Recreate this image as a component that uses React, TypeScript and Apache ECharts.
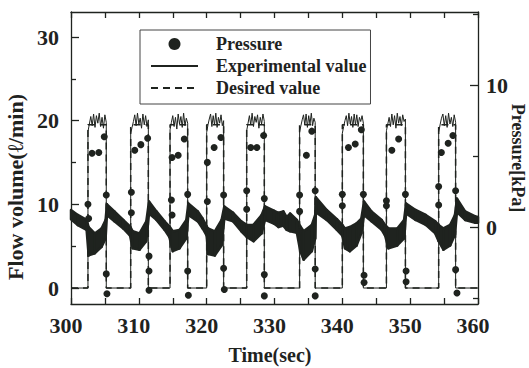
import React, { useEffect, useRef } from "react";
import * as echarts from "echarts";

// ---- Flow volume (left axis, l/min) ----
const riseTimes = [302.5, 308.8, 314.6, 320.0, 325.9, 333.7, 340.0, 346.5, 354.2];
const fallTimes = [305.2, 311.4, 317.2, 322.5, 328.5, 336.0, 343.1, 349.3, 356.7];
const desiredHigh = 19.5;
const desiredLow = 0;
const experimentalTops: number[][] = [
  [18.7, 19.6, 20.5, 19.4, 20.8, 19.2, 20.6, 19.7, 20.9, 19.3, 20.4, 19.1, 20.7, 19.8],
  [18.5, 19.2, 19.9, 20.7, 19.4, 20.9, 19.6, 20.3, 19.1, 20.8, 19.5, 20.6, 19.3, 20.1],
  [18.9, 19.8, 20.6, 19.3, 20.4, 19.0, 20.8, 19.6, 20.5, 19.2, 20.9, 19.4, 20.3, 19.7],
  [18.6, 19.5, 20.2, 20.8, 19.3, 20.6, 19.5, 20.9, 19.2, 20.4, 19.7, 20.7, 19.4, 20.0],
  [18.8, 19.7, 20.6, 19.5, 20.9, 19.3, 20.5, 19.8, 20.7, 19.1, 20.4, 19.6, 20.8, 19.9],
  [18.7, 19.4, 20.1, 20.7, 19.5, 20.8, 19.2, 20.6, 19.6, 20.9, 19.4, 20.3, 19.8],
  [18.5, 19.3, 20.0, 20.6, 19.4, 20.9, 19.6, 20.5, 19.2, 20.8, 19.5, 20.7, 19.3, 20.4, 19.9, 20.6, 19.7],
  [18.8, 19.6, 20.4, 19.3, 20.8, 19.5, 20.6, 19.1, 20.9, 19.7, 20.5, 19.4, 20.7, 19.9, 20.2],
  [18.6, 19.5, 20.3, 20.8, 19.4, 20.6, 19.2, 20.9, 19.6, 20.4, 19.3, 20.7, 19.8],
];

// ---- Pressure (right axis, kPa): dense band, upper / lower envelope ----
const bandTimes = [
  300.0, 301.0, 302.3, 302.6, 303.5, 304.5, 305.1, 305.3, 306.4, 307.7, 308.7, 309.1, 310.1, 311.1, 311.5,
  312.6, 313.8, 314.5, 315.0, 316.0, 317.0, 317.3, 318.7, 319.4, 320.0, 320.2, 321.2, 322.2, 322.6, 323.9,
  325.1, 325.9, 326.9, 328.1, 328.6, 329.9, 330.6, 331.3, 331.8, 332.3, 333.3, 333.8, 334.3, 335.5, 336.0,
  336.1, 337.7, 339.2, 340.0, 340.4, 341.1, 342.1, 342.8, 343.2, 344.3, 345.8, 346.3, 346.8, 348.1, 349.1,
  349.4, 350.8, 352.3, 353.7, 354.2, 354.9, 355.9, 356.6, 356.9, 358.1, 359.6, 360.0,
];
const bandUpper = [
  1.2, 0.85, 0.5, 0.0, -0.45, -0.1, 0.5, 1.6, 1.1, 0.5, 0.05, -0.3, -0.45, 0.4, 1.8,
  1.1, 0.4, 0.05, -0.3, -0.2, 0.5, 1.65, 1.1, 0.6, 0.05, -0.1, -0.3, 0.5, 1.45, 1.0,
  0.4, 0.15, 0.15, 0.85, 1.45, 1.15, 1.0, 1.1, 0.7, 0.95, 0.5, 0.05, -0.3, 0.15, 0.85,
  2.1, 1.2, 0.55, 0.15, -0.1, 0.0, 0.25, 0.6, 1.8, 1.1, 0.5, 0.15, -0.1, -0.1, 0.5,
  1.65, 1.2, 0.85, 0.4, 0.15, -0.1, 0.15, 0.85, 2.0, 1.1, 0.75, 0.7,
];
const bandLower = [
  0.55, 0.14, -0.2, -2.0, -1.85, -1.4, -0.8, 0.85, 0.4, -0.1, -0.6, -1.5, -1.6, -1.0, 0.95,
  0.5, -0.2, -0.7, -1.7, -1.5, -0.8, 0.85, 0.4, -0.1, -0.6, -1.9, -2.0, -1.3, 0.6, 0.4,
  -0.3, -0.7, -1.0, -0.45, 0.5, 0.25, 0.0, 0.1, -0.2, -0.3, -0.4, -1.7, -2.3, -1.7, -0.8,
  1.05, 0.5, -0.2, -0.6, -1.5, -1.7, -1.3, -0.45, 0.85, 0.4, -0.2, -0.6, -1.5, -1.3, -0.8,
  0.95, 0.5, 0.15, -0.45, -1.0, -1.6, -1.3, -0.55, 1.05, 0.5, 0.3, 0.3,
];

// ---- Pressure: isolated samples at the valve switching instants ----
const dotTimes = [
  302.5, 302.6, 303.1, 304.1, 304.9, 305.2, 305.2, 305.3,
  308.9, 308.9, 309.4, 310.3, 311.3, 311.5, 311.5, 311.5,
  314.8, 314.9, 314.9, 315.8, 316.7, 317.2, 317.2, 317.3,
  320.1, 320.1, 321.1, 322.1, 322.5, 322.5, 322.6,
  325.9, 325.9, 326.5, 327.4, 328.4, 328.5, 328.5, 328.5,
  333.7, 333.7, 334.7, 335.5, 336.0, 336.0, 336.0,
  340.0, 340.0, 340.9, 341.9, 342.8, 343.1, 343.2, 343.2,
  346.5, 346.5, 347.3, 348.3, 349.3, 349.4, 349.4,
  354.2, 354.2, 354.6, 355.6, 356.3, 356.7, 356.7, 356.9,
];
const dotValues = [
  1.6, 0.6, 5.2, 5.25, 6.35, 2.25, -3.3, -4.7,
  2.45, 1.0, 5.4, 5.8, 6.25, -2.05, -3.1, -4.45,
  1.9, 0.85, 4.9, 5.05, 6.2, 2.3, -3.1, -4.8,
  4.55, 1.8, 5.6, 6.3, 2.25, -2.9, -4.4,
  2.55, 1.25, 5.6, 5.6, 6.45, 2.0, -3.35, -4.85,
  2.25, 1.1, 5.05, 6.75, 2.55, -2.95, -4.85,
  2.3, 1.5, 5.6, 5.85, 6.85, 2.3, -3.4, -3.9,
  1.85, 1.5, 5.4, 6.2, 2.3, -3.1, -3.85,
  2.85, 1.55, 5.25, 5.9, 6.45, 2.55, -3.0, -4.65,
];

// ---- Axes ----
const timeMin = 300;
const timeMax = 360;
const timeTickStep = 5;
const timeLabelValues = [300, 310, 320, 330, 340, 350, 360];
const flowMin = -1.91;
const flowMax = 32.99;
const flowLabelValues = [0, 10, 20, 30];
const flowMinorTicks = [5, 15, 25];
const pressureMin = -5.42;
const pressureMax = 15.14;
const pressureLabelValues = [0, 10];
const pressureMinorTicks = [-5, 5, 15];

const INK = "#1f231f";
const FONT = "'Liberation Serif', 'Times New Roman', serif";

export default function App() {
  const ref = useRef<HTMLDivElement>(null);

  useEffect(() => {
    if (!ref.current) return;
    const chart = echarts.init(ref.current, undefined, { renderer: "svg" });

    const desired: number[][] = [[timeMin, desiredLow]];
    riseTimes.forEach((r, i) => {
      const f = fallTimes[i];
      desired.push([r, desiredLow], [r, desiredHigh], [f, desiredHigh], [f, desiredLow]);
    });
    desired.push([timeMax, desiredLow]);

    const experimental: number[][] = [[timeMin, 0]];
    riseTimes.forEach((r, i) => {
      const f = fallTimes[i];
      const tops = experimentalTops[i];
      experimental.push([r, 0]);
      tops.forEach((v, k) => experimental.push([r + ((f - r) * k) / (tops.length - 1), v]));
      experimental.push([f, 0]);
    });
    experimental.push([timeMax, 0]);

    // band segments: [t0, upper0, lower0, t1, upper1, lower1]
    const bandSegments = bandTimes.slice(0, -1).map((t, i) => [
      t, bandUpper[i], bandLower[i], bandTimes[i + 1], bandUpper[i + 1], bandLower[i + 1],
    ]);
    const dots = dotTimes.map((t, i) => [t, dotValues[i]]);

    const axisLineStyle = { color: INK, width: 1.3 };
    const labelStyle = { color: INK, fontFamily: FONT, fontWeight: "bold" as const, fontSize: 22 };

    chart.setOption({
      animation: false,
      backgroundColor: "#ffffff",
      grid: { left: 71, right: 51, top: 12, bottom: 64, containLabel: false, outerBoundsMode: "none" },
      legend: {
        orient: "vertical",
        left: 140,
        top: 30,
        padding: [5, 4, 7, 10],
        itemGap: 4,
        itemWidth: 47,
        itemHeight: 12,
        borderColor: "#444",
        borderWidth: 1,
        backgroundColor: "#fff",
        selectedMode: false,
        textStyle: { color: INK, fontFamily: FONT, fontWeight: "bold", fontSize: 18, padding: [0, 0, 0, 13] },
        data: [
          { name: "Pressure", icon: "circle", itemStyle: { color: INK, opacity: 1 } },
          { name: "Experimental value", itemStyle: { opacity: 0 } },
          { name: "Desired value", itemStyle: { opacity: 0 } },
        ],
      },
      xAxis: [
        {
          type: "value",
          position: "bottom",
          min: timeMin,
          max: timeMax,
          interval: timeTickStep,
          axisLine: { show: true, onZero: false, lineStyle: axisLineStyle },
          axisTick: { show: true, inside: true, length: 6, lineStyle: axisLineStyle },
          axisLabel: { ...labelStyle, customValues: timeLabelValues, margin: 10, padding: [0, 10, 0, 0] },
          splitLine: { show: false },
        },
        {
          type: "value",
          position: "top",
          min: timeMin,
          max: timeMax,
          interval: timeTickStep,
          axisLine: { show: true, onZero: false, lineStyle: axisLineStyle },
          axisTick: { show: true, inside: true, length: 6, lineStyle: axisLineStyle },
          axisLabel: { show: false },
          splitLine: { show: false },
        },
      ],
      yAxis: [
        {
          type: "value",
          position: "left",
          min: flowMin,
          max: flowMax,
          axisLine: { show: true, onZero: false, lineStyle: axisLineStyle },
          axisTick: { show: true, inside: true, length: 8, customValues: flowLabelValues, lineStyle: axisLineStyle },
          axisLabel: { ...labelStyle, customValues: flowLabelValues, margin: 12, padding: [7, 0, 0, 0] },
          splitLine: { show: false },
        },
        {
          type: "value",
          position: "right",
          min: pressureMin,
          max: pressureMax,
          axisLine: { show: true, onZero: false, lineStyle: axisLineStyle },
          axisTick: { show: true, inside: true, length: 8, customValues: pressureLabelValues, lineStyle: axisLineStyle },
          axisLabel: { ...labelStyle, customValues: pressureLabelValues, margin: 8, padding: [5, 0, 0, 0] },
          splitLine: { show: false },
        },
        {
          type: "value",
          position: "left",
          min: flowMin,
          max: flowMax,
          axisLine: { show: false, onZero: false },
          axisTick: { show: true, inside: true, length: 5, customValues: flowMinorTicks, lineStyle: axisLineStyle },
          axisLabel: { show: false },
          splitLine: { show: false },
        },
        {
          type: "value",
          position: "right",
          min: pressureMin,
          max: pressureMax,
          axisLine: { show: false, onZero: false },
          axisTick: { show: true, inside: true, length: 5, customValues: pressureMinorTicks, lineStyle: axisLineStyle },
          axisLabel: { show: false },
          splitLine: { show: false },
        },
      ],
      graphic: [
        {
          type: "text",
          x: 15,
          y: 187,
          rotation: Math.PI / 2,
          style: {
            text: "Flow volume(ℓ/min)",
            fill: INK,
            fontFamily: FONT,
            fontWeight: "bold",
            fontSize: 22,
            align: "center",
            verticalAlign: "middle",
            textAlign: "center",
            textVerticalAlign: "middle",
          },
        },
        {
          type: "text",
          x: 518,
          y: 158,
          rotation: -Math.PI / 2,
          style: {
            text: "Pressure[kPa]",
            fill: INK,
            fontFamily: FONT,
            fontWeight: "bold",
            fontSize: 18,
            align: "center",
            verticalAlign: "middle",
            textAlign: "center",
            textVerticalAlign: "middle",
          },
        },
        {
          type: "text",
          x: 270,
          y: 355,
          style: {
            text: "Time(sec)",
            fill: INK,
            fontFamily: FONT,
            fontWeight: "bold",
            fontSize: 20,
            align: "center",
            verticalAlign: "middle",
            textAlign: "center",
            textVerticalAlign: "middle",
          },
        },
      ],
      series: [
        {
          name: "Pressure band",
          type: "custom",
          xAxisIndex: 0,
          yAxisIndex: 1,
          data: bandSegments,
          encode: { x: [0, 3], y: [1, 2, 4, 5] },
          z: 1,
          renderItem: (params: any, api: any) => {
            const a = api.coord([api.value(0), api.value(1)]);
            const b = api.coord([api.value(3), api.value(4)]);
            const c = api.coord([api.value(3), api.value(5)]);
            const d = api.coord([api.value(0), api.value(2)]);
            return {
              type: "polygon",
              shape: { points: [a, b, c, d] },
              style: { fill: INK, stroke: INK, lineWidth: 2.5, lineJoin: "round" },
            };
          },
        },
        {
          name: "Pressure",
          type: "scatter",
          xAxisIndex: 0,
          yAxisIndex: 1,
          symbol: "circle",
          symbolSize: 7,
          itemStyle: { color: INK, opacity: 1 },
          data: dots,
          z: 3,
        },
        {
          name: "Experimental value",
          type: "line",
          xAxisIndex: 0,
          yAxisIndex: 0,
          symbol: "none",
          itemStyle: { color: INK },
          lineStyle: { color: INK, width: 1 },
          data: experimental,
          z: 2,
        },
        {
          name: "Desired value",
          type: "line",
          xAxisIndex: 0,
          yAxisIndex: 0,
          symbol: "none",
          itemStyle: { color: INK },
          lineStyle: { color: INK, width: 1.5, type: [7, 5] },
          data: desired,
          z: 2,
        },
      ],
    });

    return () => chart.dispose();
  }, []);

  return (
    <div
      ref={ref}
      style={{ position: "fixed", left: 0, top: 0, width: 529, height: 368, background: "#fff" }}
    />
  );
}
